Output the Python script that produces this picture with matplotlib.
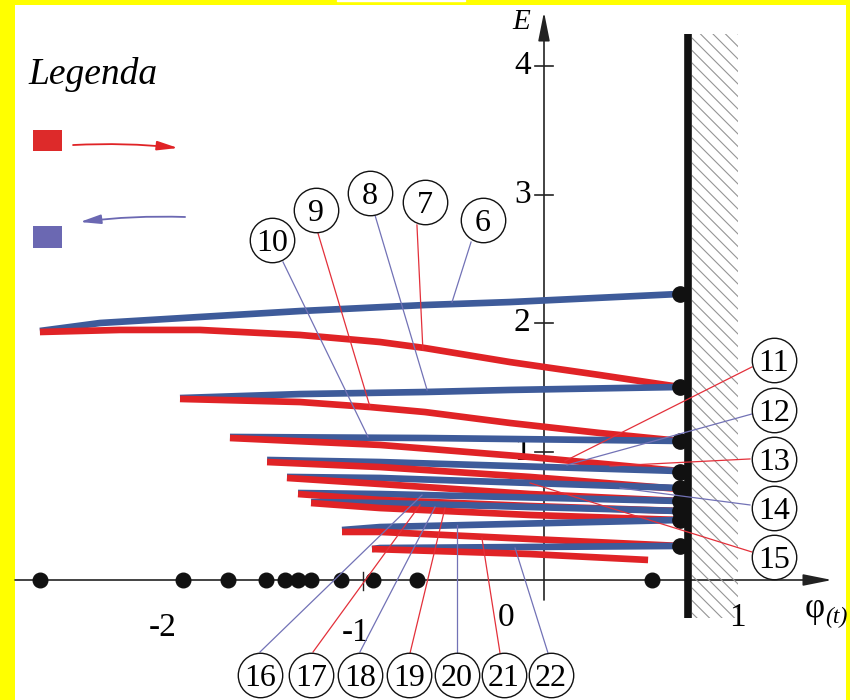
import numpy as np
import matplotlib
matplotlib.use("Agg")
import matplotlib.pyplot as plt
from matplotlib.patches import Rectangle

# ---------------- data ----------------
# Trajectory segments in the (phi, E) plane, in the order they are travelled.
# "right" = motion toward the wall (red), "left" = rebound motion (blue).
seg_labels = ["6", "7", "8", "9", "10", "11", "12", "13", "14", "15",
              "16", "17", "18", "19", "20", "21", "22", ""]
seg_kind = ["left", "right"] * 9
seg_phi = [
    [0.751, -0.188, -0.657, -1.348, -1.901, -2.453, -2.785],
    [-2.785, -2.343, -1.901, -1.348, -0.906, -0.657, -0.188, 0.309, 0.751],
    [0.751, -0.188, -0.657, -1.348, -2.011],
    [-2.011, -1.348, -0.961, -0.657, -0.188, 0.309, 0.751],
    [0.751, -0.657, -1.735],
    [-1.735, -0.906, -0.077, 0.751],
    [0.751, -0.906, -1.530],
    [-1.530, -0.906, -0.077, 0.751],
    [0.751, -0.906, -1.420],
    [-1.420, -0.906, -0.077, 0.751],
    [0.751, -0.906, -1.359],
    [-1.359, -0.906, -0.077, 0.751],
    [0.751, -0.906, -1.287],
    [-1.287, -0.906, -0.077, 0.751],
    [0.751, -0.906, -1.116],
    [-1.116, -0.906, -0.077, 0.751],
    [0.751, -0.906, -0.950],
    [-0.950, -0.077, 0.575],
]
seg_E = [
    [2.226, 2.163, 2.140, 2.093, 2.047, 2.000, 1.938],
    [1.930, 1.946, 1.946, 1.907, 1.852, 1.805, 1.696, 1.595, 1.502],
    [1.502, 1.479, 1.463, 1.447, 1.416],
    [1.409, 1.385, 1.346, 1.307, 1.222, 1.144, 1.082],
    [1.082, 1.105, 1.113],
    [1.105, 1.051, 0.957, 0.848],
    [0.848, 0.918, 0.934],
    [0.918, 0.879, 0.802, 0.708],
    [0.716, 0.794, 0.802],
    [0.794, 0.747, 0.669, 0.615],
    [0.615, 0.669, 0.677],
    [0.669, 0.623, 0.576, 0.537],
    [0.537, 0.599, 0.607],
    [0.599, 0.560, 0.506, 0.467],
    [0.467, 0.412, 0.389],
    [0.374, 0.374, 0.319, 0.265],
    [0.265, 0.249, 0.241],
    [0.241, 0.202, 0.156],
]

# impacts on the wall (energy at impact)
wall_phi = 0.796
impact_phi = 0.751
impact_E = [2.226, 1.502, 1.082, 0.840, 0.716, 0.615, 0.537, 0.467, 0.265]

# turning points projected on the phi axis
turn_phi = [-2.785, -1.994, -1.746, -1.536, -1.431, -1.359, -1.287,
            -1.122, -0.945, -0.702, 0.597]

E_ticks = [1, 2, 3, 4]

# callouts: label position, leader start (circle edge) and leader end (curve)
callout_text = ["6", "7", "8", "9", "10", "11", "12", "13", "14", "15",
                "16", "17", "18", "19", "20", "21", "22"]
callout_pos = [(-0.337, 2.802), (-0.657, 2.942), (-0.961, 3.012), (-1.260, 2.879),
               (-1.503, 2.646), (1.271, 1.712), (1.271, 1.323), (1.271, 0.942),
               (1.271, 0.560), (1.271, 0.179), (-1.569, -0.739), (-1.287, -0.739),
               (-1.017, -0.739), (-0.746, -0.739), (-0.481, -0.739), (-0.221, -0.739),
               (0.039, -0.739)]
leader_start = [(-0.403, 2.630), (-0.702, 2.763), (-0.934, 2.840), (-1.249, 2.700),
                (-1.442, 2.475), (1.149, 1.658), (1.149, 1.292), (1.138, 0.942),
                (1.138, 0.584), (1.149, 0.218), (-1.569, -0.560), (-1.276, -0.560),
                (-1.017, -0.560), (-0.740, -0.568), (-0.481, -0.568), (-0.243, -0.568),
                (0.022, -0.568)]
leader_end = [(-0.508, 2.163), (-0.669, 1.790), (-0.646, 1.479), (-0.961, 1.346),
              (-0.972, 1.113), (0.116, 0.926), (0.127, 0.895), (0.365, 0.887),
              (0.420, 0.716), (-0.077, 0.755), (-0.674, 0.661), (-0.685, 0.584),
              (-0.602, 0.568), (-0.547, 0.560), (-0.481, 0.428), (-0.343, 0.327),
              (-0.160, 0.249)]
leader_kind = ["left", "right"] * 8 + ["left"]

# ---------------- style ----------------
RED = "#e02326"
BLUE = "#3e5b9a"
RED_THIN = "#e3303a"
BLUE_THIN = "#7272b6"
SERIF = ["Liberation Serif", "DejaVu Serif"]

# pixel <-> data helpers for the drawing frame
X0, XS = 544.0, 181.0
Y0, YS = 580.0, 128.5


def px2d(px, py):
    return (px - X0) / XS, (Y0 - py) / YS


fig = plt.figure(figsize=(8.5, 7), dpi=100, facecolor="#ffff00")
ax = fig.add_axes([15 / 850, 0, 831 / 850, 695 / 700])
ax.set_facecolor("white")
for s in ax.spines.values():
    s.set_visible(False)
ax.set_xticks([])
ax.set_yticks([])
ax.set_xlim(px2d(15, 0)[0], px2d(846, 0)[0])
ax.set_ylim(px2d(0, 700)[1], px2d(0, 5)[1])

fig.patches.append(Rectangle((337 / 850, 699 / 700), 128 / 850, 1 / 700,
                             transform=fig.transFigure, color="white", zorder=0))

# axes
xl = ax.get_xlim()
ax.annotate("", xy=(px2d(832, 0)[0], 0), xytext=(xl[0], 0),
            arrowprops=dict(arrowstyle="-|>,head_length=1.1,head_width=0.22",
                            lw=1.2, color="#222222", shrinkA=0, shrinkB=0,
                            mutation_scale=16), zorder=1)
ax.annotate("", xy=(0, px2d(0, 12)[1]), xytext=(0, px2d(0, 600)[1]),
            arrowprops=dict(arrowstyle="-|>,head_length=1.1,head_width=0.22",
                            lw=1.2, color="#222222", shrinkA=0, shrinkB=0,
                            mutation_scale=16), zorder=1)
tick_half = 9 / XS
for t in E_ticks:
    ax.plot([-tick_half, tick_half], [t, t], color="#222222", lw=1.2, zorder=1)
    ax.text(-0.12, t, str(t), ha="center", va="center", fontsize=24,
            family=SERIF, zorder=0.5)
ax.plot([-1, -1], [-0.08, 0.06], color="#222222", lw=1.0, zorder=1)

ax.text(-2.105, -0.374, "-2", ha="center", va="center", fontsize=24, family=SERIF)
ax.text(-1.039, -0.41, "-1", ha="center", va="center", fontsize=24, family=SERIF)
ax.text(-0.21, -0.296, "0", ha="center", va="center", fontsize=24, family=SERIF)
ax.text(1.066, -0.296, "1", ha="center", va="center", fontsize=24, family=SERIF)
ax.text(-0.127, 4.342, "E", ha="center", va="center", fontsize=21,
        family=SERIF, style="italic")
ax.text(1.497, -0.218, "φ", ha="center", va="center", fontsize=25, family=SERIF)
ax.text(1.615, -0.29, "(t)", ha="center", va="center", fontsize=17,
        family=SERIF, style="italic")

# wall with hatching
wall_top = px2d(0, 34)[1]
wall_bot = px2d(0, 618)[1]
hx0, hx1 = 692, 738
hatch_clip = Rectangle((px2d(hx0, 0)[0], wall_bot),
                       px2d(hx1, 0)[0] - px2d(hx0, 0)[0], wall_top - wall_bot,
                       transform=ax.transData, fill=False, lw=0)
ax.add_patch(hatch_clip)
for c in np.arange(34 - hx1, 618 - hx0 + 12.5, 12.5):
    xa, ya = px2d(hx0, hx0 + c)
    xb, yb = px2d(hx1, hx1 + c)
    ln, = ax.plot([xa, xb], [ya, yb], color="#959595", lw=0.8, zorder=2)
    ln.set_clip_path(hatch_clip)
ax.plot([wall_phi, wall_phi], [wall_bot, wall_top], color="#111111", lw=5.5,
        solid_capstyle="butt", zorder=6)

# trajectories
for phi, E, kind in zip(seg_phi, seg_E, seg_kind):
    ax.plot(phi, E, color=RED if kind == "right" else BLUE, lw=4.8,
            solid_capstyle="butt", solid_joinstyle="round", zorder=3)

ax.plot([impact_phi] * len(impact_E), impact_E, "o", color="#111111", ms=11,
        zorder=5)
ax.plot(turn_phi, [0] * len(turn_phi), "o", color="#111111", ms=10.5, zorder=5)

# callouts
for txt, pos, p0, p1, kind in zip(callout_text, callout_pos, leader_start,
                                  leader_end, leader_kind):
    ax.plot([p0[0], p1[0]], [p0[1], p1[1]],
            color=RED_THIN if kind == "right" else BLUE_THIN, lw=0.9, zorder=7)
    ax.plot(pos[0], pos[1], "o", ms=32, mfc="white", mec="#111111", mew=1.0,
            zorder=8)
    ax.text(pos[0], pos[1], txt, ha="center", va="center_baseline", fontsize=23,
            family=SERIF, zorder=9)

# legend
ax.text(-2.851, 3.93, "Legenda", ha="left", va="center", fontsize=27,
        family=SERIF, style="italic")
ax.add_patch(Rectangle((-2.823, 3.339), 0.160, 0.163, color="#dd2a2a", lw=0))
ax.add_patch(Rectangle((-2.823, 2.584), 0.160, 0.171, color="#6b68b2", lw=0))
ax.annotate("", xy=(-2.022, 3.362), xytext=(-2.602, 3.385),
            arrowprops=dict(arrowstyle="-|>,head_length=0.9,head_width=0.2",
                            color=RED, lw=1.3, connectionstyle="arc3,rad=-0.04",
                            shrinkA=0, shrinkB=0, mutation_scale=14))
ax.annotate("", xy=(-2.564, 2.786), xytext=(-1.983, 2.825),
            arrowprops=dict(arrowstyle="-|>,head_length=0.9,head_width=0.2",
                            color="#6b68b2", lw=1.3, connectionstyle="arc3,rad=0.04",
                            shrinkA=0, shrinkB=0, mutation_scale=14))

fig.savefig("out.png", dpi=100, facecolor=fig.get_facecolor())
